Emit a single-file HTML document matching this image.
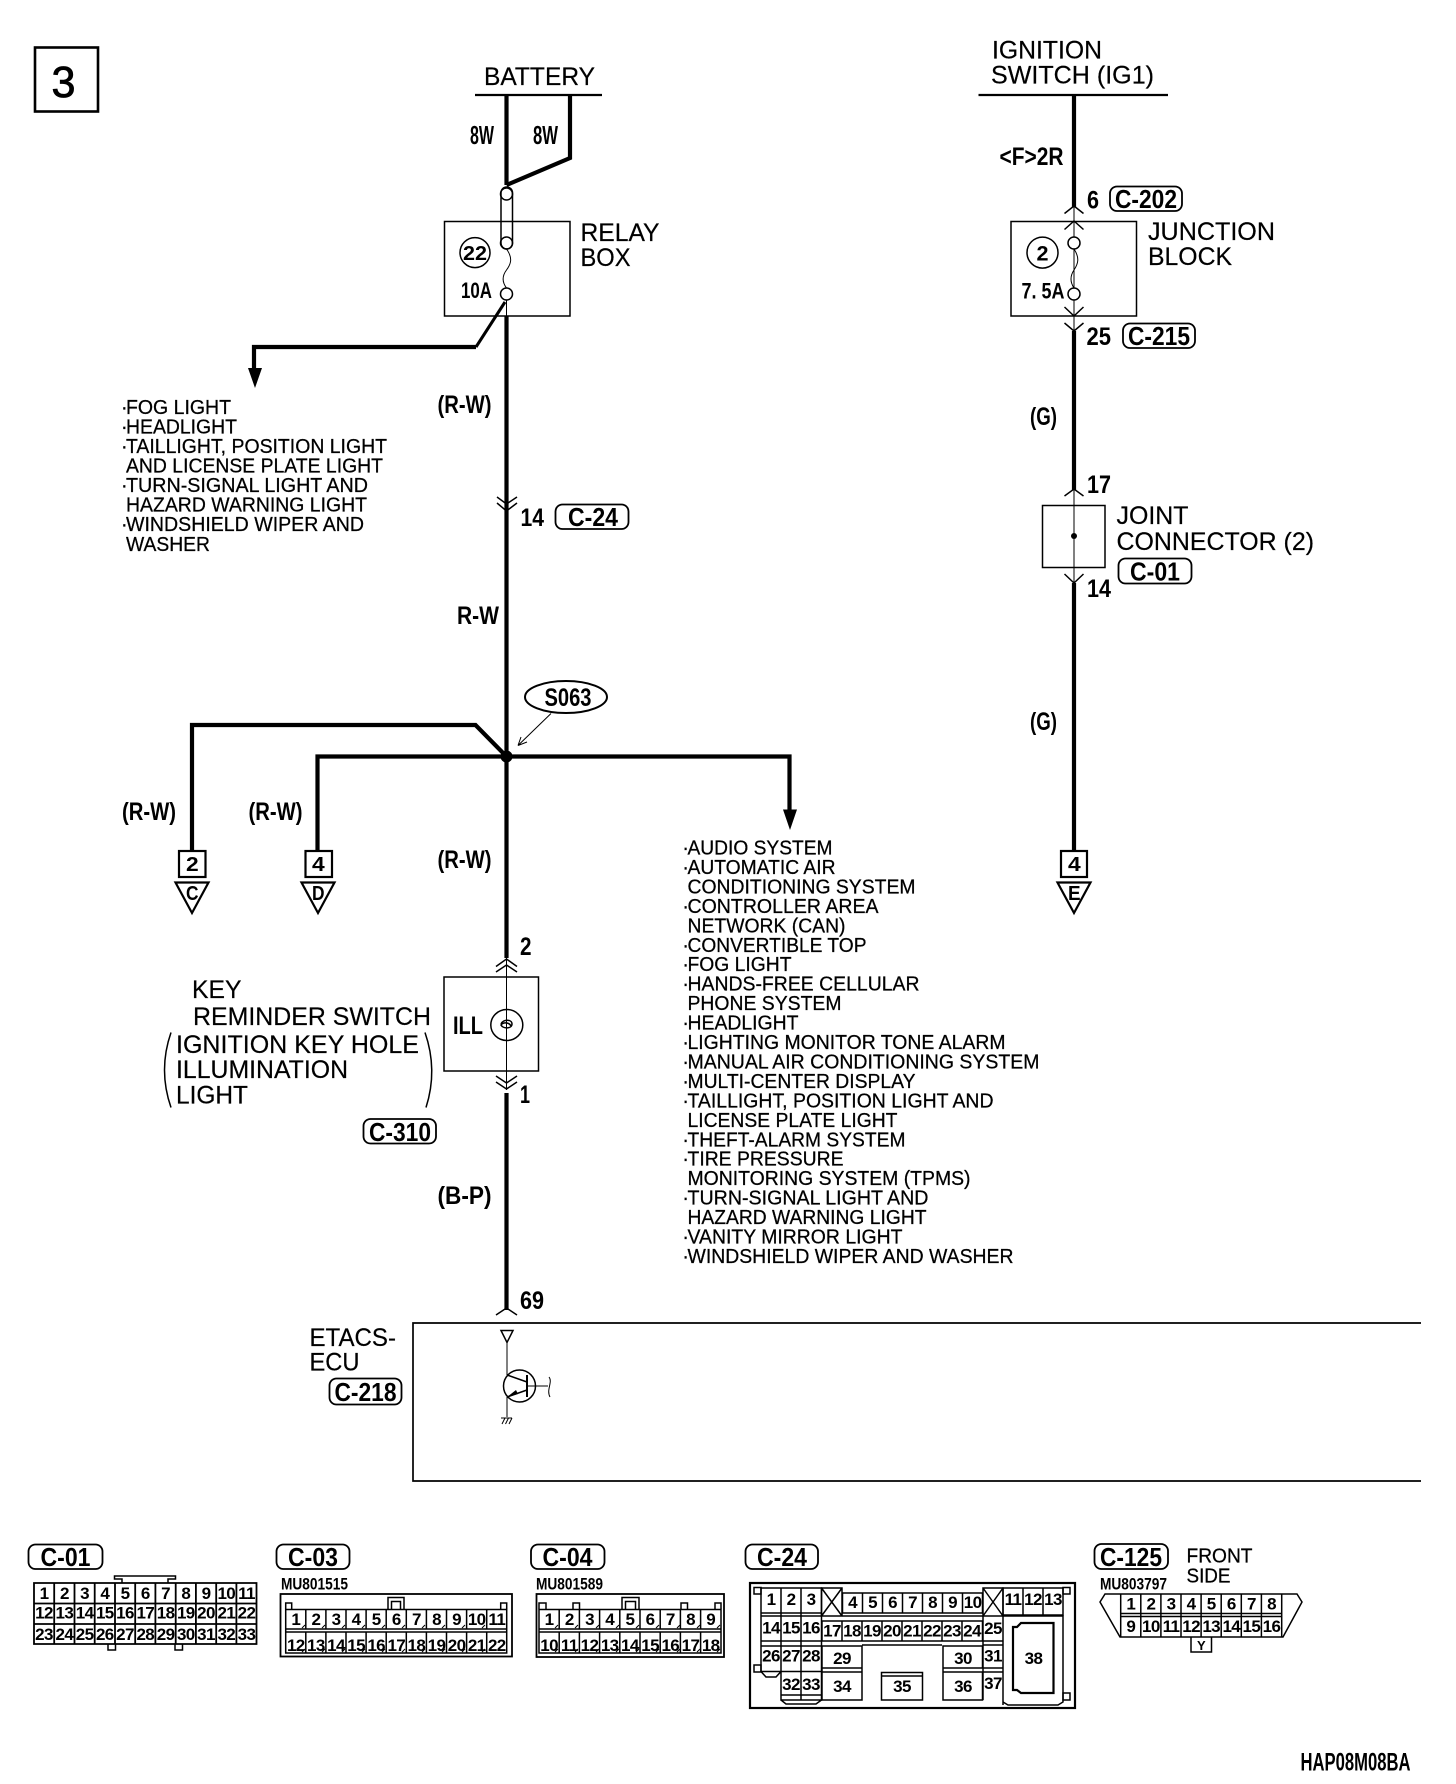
<!DOCTYPE html>
<html><head><meta charset="utf-8"><style>
html,body{margin:0;padding:0;background:#fff;width:1456px;height:1784px;overflow:hidden}
svg{display:block}
text{font-family:"Liberation Sans",sans-serif;fill:#000}
.n{font-size:25px;stroke:#000;stroke-width:.2}
.l{font-size:20px;stroke:#000;stroke-width:.25}
.b{font-weight:bold;font-size:25px}
.c{font-weight:bold;font-size:17px;text-anchor:middle;letter-spacing:-.6px}
.p{font-weight:bold;font-size:26px;text-anchor:middle}
.m{font-weight:bold;font-size:16.5px}
.t{stroke:#000;stroke-width:4.2;fill:none;stroke-linejoin:miter}
.f{stroke:#000;stroke-width:1.5;fill:none}
.h{stroke:#000;stroke-width:1;fill:none}
.g{stroke:#000;stroke-width:2.2;fill:none}
.pill{stroke:#000;stroke-width:1.8;fill:none}
</style></head><body>
<svg xmlns="http://www.w3.org/2000/svg" width="1456" height="1784" viewBox="0 0 1456 1784">
<rect x="35" y="47.5" width="63" height="64" fill="none" stroke="#000" stroke-width="2.6"/>
<text x="51.5" y="97" style="font-size:44px;stroke:#000;stroke-width:.8" textLength="24" lengthAdjust="spacingAndGlyphs">3</text>

<!-- battery -->
<text class="n" x="484" y="85" textLength="111" lengthAdjust="spacingAndGlyphs">BATTERY</text>
<path class="g" d="M475 95H602"/>
<path class="t" d="M506.5 95V185"/>
<path class="t" d="M570 95V158L506.5 185"/>
<text class="b" x="470" y="144" style="font-size:26px" textLength="24" lengthAdjust="spacingAndGlyphs">8W</text>
<text class="b" x="533" y="144" style="font-size:26px" textLength="25" lengthAdjust="spacingAndGlyphs">8W</text>
<rect class="f" x="501" y="187" width="11.5" height="62" rx="5.7"/>
<circle class="f" cx="506.5" cy="194" r="6" fill="#fff"/>
<circle class="f" cx="506.5" cy="243" r="6"/>
<circle class="f" cx="506.5" cy="294" r="6"/>
<path class="h" d="M506.5 249C513 258 511 264 506.5 270C502 276 502 282 506.5 288"/>
<rect class="f" x="444.5" y="221.5" width="125.5" height="94.5"/>
<circle class="f" cx="475" cy="252.6" r="15"/>
<text class="b" x="463" y="260" style="font-size:20px" textLength="24" lengthAdjust="spacingAndGlyphs">22</text>
<text class="b" x="461" y="298" style="font-size:22px" textLength="31" lengthAdjust="spacingAndGlyphs">10A</text>
<text class="n" x="580.5" y="241" textLength="79" lengthAdjust="spacingAndGlyphs">RELAY</text>
<text class="n" x="580.5" y="266" textLength="50" lengthAdjust="spacingAndGlyphs">BOX</text>
<path class="h" d="M506.5 300V316"/>
<path class="t" d="M506.5 316V1310"/>
<path stroke="#000" stroke-width="3" fill="none" d="M505 302L476 347"/>
<path class="t" d="M476 347H254V370"/>
<path d="M248 368L262 368L255 388Z" fill="#000"/>

<text class="b" x="437.5" y="413" textLength="54" lengthAdjust="spacingAndGlyphs">(R-W)</text>
<g>
<text class="l" x="121" y="414">·</text><text class="l" x="126" y="414" textLength="105" lengthAdjust="spacingAndGlyphs">FOG LIGHT</text>
<text class="l" x="121" y="433.5">·</text><text class="l" x="126" y="433.5" textLength="111" lengthAdjust="spacingAndGlyphs">HEADLIGHT</text>
<text class="l" x="121" y="453">·</text><text class="l" x="126" y="453" textLength="261" lengthAdjust="spacingAndGlyphs">TAILLIGHT, POSITION LIGHT</text>
<text class="l" x="126" y="472.5" textLength="257" lengthAdjust="spacingAndGlyphs">AND LICENSE PLATE LIGHT</text>
<text class="l" x="121" y="492">·</text><text class="l" x="126" y="492" textLength="242" lengthAdjust="spacingAndGlyphs">TURN-SIGNAL LIGHT AND</text>
<text class="l" x="126" y="511.5" textLength="241" lengthAdjust="spacingAndGlyphs">HAZARD WARNING LIGHT</text>
<text class="l" x="121" y="531">·</text><text class="l" x="126" y="531" textLength="238" lengthAdjust="spacingAndGlyphs">WINDSHIELD WIPER AND</text>
<text class="l" x="126" y="551" textLength="84" lengthAdjust="spacingAndGlyphs">WASHER</text>
</g>
<path class="f" d="M497 497L506.5 504L517 497M497 503L506.5 511L517 503"/>
<text class="b" x="520.5" y="526" textLength="23.5" lengthAdjust="spacingAndGlyphs">14</text>
<rect class="pill" x="555.5" y="504.5" width="73" height="24.5" rx="7"/>
<text class="p" x="593" y="526" textLength="50" lengthAdjust="spacingAndGlyphs">C-24</text>
<text class="b" x="457" y="624" textLength="42" lengthAdjust="spacingAndGlyphs">R-W</text>

<!-- S063 -->
<ellipse cx="566" cy="697" rx="41" ry="16" fill="none" stroke="#000" stroke-width="2"/>
<text class="b" x="544.5" y="706" style="font-size:25px" textLength="47" lengthAdjust="spacingAndGlyphs">S063</text>
<path class="h" d="M551 713.5L518 745.5M518 745.5L521 737M518 745.5L527 742"/>
<circle cx="506.5" cy="756.5" r="6" fill="#000"/>
<path class="t" d="M506.5 756.5L475.5 725H192V851"/>
<path class="t" d="M317.5 851V756.5H789.5V812"/>
<path d="M783 809.5H797L790 830Z" fill="#000"/>
<text class="b" x="122" y="820" textLength="54" lengthAdjust="spacingAndGlyphs">(R-W)</text>
<text class="b" x="248.5" y="820" textLength="54" lengthAdjust="spacingAndGlyphs">(R-W)</text>
<text class="b" x="437.5" y="868" textLength="54" lengthAdjust="spacingAndGlyphs">(R-W)</text>
<rect class="g" x="179" y="851" width="26.5" height="26" fill="#fff"/>
<text class="c" x="192" y="871" style="font-size:20px" textLength="12" lengthAdjust="spacingAndGlyphs">2</text>
<path class="g" d="M175.5 882.5H208.5L192 913Z"/>
<text class="c" x="192" y="900" style="font-size:20px" textLength="12" lengthAdjust="spacingAndGlyphs">C</text>
<rect class="g" x="305.5" y="851" width="26.5" height="26" fill="#fff"/>
<text class="c" x="318" y="871" style="font-size:20px" textLength="12" lengthAdjust="spacingAndGlyphs">4</text>
<path class="g" d="M301.5 882.5H334.5L318 913Z"/>
<text class="c" x="318" y="900" style="font-size:20px" textLength="12" lengthAdjust="spacingAndGlyphs">D</text>

<!-- key reminder -->
<text class="b" x="520" y="955" textLength="11.5" lengthAdjust="spacingAndGlyphs">2</text>
<rect x="501" y="958" width="11" height="135" fill="#fff"/>
<path class="h" d="M506.5 958V1090"/>
<path class="f" d="M496 966.5L506.5 959L517 966.5M496 972L506.5 965L517 972"/>
<path class="f" d="M496 1076L506.5 1083L517 1076M496 1082L506.5 1089L517 1082"/>
<rect class="f" x="444" y="977" width="94.5" height="94"/>
<text class="b" x="453" y="1034" textLength="30" lengthAdjust="spacingAndGlyphs">ILL</text>
<ellipse class="f" cx="506.8" cy="1025" rx="16" ry="15.5"/>
<path class="f" d="M501 1024C503 1019 512 1019 512 1024C512 1029 503 1029 501 1025C503 1022 509 1022 511 1026"/>
<text class="b" x="520" y="1103" textLength="10" lengthAdjust="spacingAndGlyphs">1</text>
<text class="n" x="192" y="998" textLength="49.5" lengthAdjust="spacingAndGlyphs">KEY</text>
<text class="n" x="193" y="1025" textLength="238" lengthAdjust="spacingAndGlyphs">REMINDER SWITCH</text>
<text class="n" x="176" y="1053" textLength="243" lengthAdjust="spacingAndGlyphs">IGNITION KEY HOLE</text>
<text class="n" x="176" y="1078" textLength="172" lengthAdjust="spacingAndGlyphs">ILLUMINATION</text>
<text class="n" x="176" y="1103.5" textLength="72" lengthAdjust="spacingAndGlyphs">LIGHT</text>
<path class="f" d="M171 1032.5Q158 1070 171 1107.5"/>
<path class="f" d="M425 1032.5Q438 1070 426 1107.5"/>
<rect class="pill" x="363.5" y="1119" width="72.5" height="24.5" rx="7"/>
<text class="p" x="400" y="1141" textLength="62" lengthAdjust="spacingAndGlyphs">C-310</text>
<text class="b" x="437.5" y="1204" textLength="54" lengthAdjust="spacingAndGlyphs">(B-P)</text>

<!-- list right -->
<g transform="translate(-.8 0)">
<text class="l" x="683" y="854.5">·</text><text class="l" x="688.3" y="854.5" textLength="145" lengthAdjust="spacingAndGlyphs">AUDIO SYSTEM</text>
<text class="l" x="683" y="874">·</text><text class="l" x="688.3" y="874" textLength="148" lengthAdjust="spacingAndGlyphs">AUTOMATIC AIR</text>
<text class="l" x="688.3" y="893.4" textLength="228" lengthAdjust="spacingAndGlyphs">CONDITIONING SYSTEM</text>
<text class="l" x="683" y="912.9">·</text><text class="l" x="688.3" y="912.9" textLength="191" lengthAdjust="spacingAndGlyphs">CONTROLLER AREA</text>
<text class="l" x="688.3" y="932.3" textLength="158" lengthAdjust="spacingAndGlyphs">NETWORK (CAN)</text>
<text class="l" x="683" y="951.8">·</text><text class="l" x="688.3" y="951.8" textLength="179" lengthAdjust="spacingAndGlyphs">CONVERTIBLE TOP</text>
<text class="l" x="683" y="971.2">·</text><text class="l" x="688.3" y="971.2" textLength="104" lengthAdjust="spacingAndGlyphs">FOG LIGHT</text>
<text class="l" x="683" y="990.7">·</text><text class="l" x="688.3" y="990.7" textLength="232" lengthAdjust="spacingAndGlyphs">HANDS-FREE CELLULAR</text>
<text class="l" x="688.3" y="1010.1" textLength="154" lengthAdjust="spacingAndGlyphs">PHONE SYSTEM</text>
<text class="l" x="683" y="1029.6">·</text><text class="l" x="688.3" y="1029.6" textLength="111" lengthAdjust="spacingAndGlyphs">HEADLIGHT</text>
<text class="l" x="683" y="1049">·</text><text class="l" x="688.3" y="1049" textLength="318" lengthAdjust="spacingAndGlyphs">LIGHTING MONITOR TONE ALARM</text>
<text class="l" x="683" y="1068.5">·</text><text class="l" x="688.3" y="1068.5" textLength="352" lengthAdjust="spacingAndGlyphs">MANUAL AIR CONDITIONING SYSTEM</text>
<text class="l" x="683" y="1087.9">·</text><text class="l" x="688.3" y="1087.9" textLength="228" lengthAdjust="spacingAndGlyphs">MULTI-CENTER DISPLAY</text>
<text class="l" x="683" y="1107.4">·</text><text class="l" x="688.3" y="1107.4" textLength="306" lengthAdjust="spacingAndGlyphs">TAILLIGHT, POSITION LIGHT AND</text>
<text class="l" x="688.3" y="1126.8" textLength="210" lengthAdjust="spacingAndGlyphs">LICENSE PLATE LIGHT</text>
<text class="l" x="683" y="1146.3">·</text><text class="l" x="688.3" y="1146.3" textLength="218" lengthAdjust="spacingAndGlyphs">THEFT-ALARM SYSTEM</text>
<text class="l" x="683" y="1165.7">·</text><text class="l" x="688.3" y="1165.7" textLength="156" lengthAdjust="spacingAndGlyphs">TIRE PRESSURE</text>
<text class="l" x="688.3" y="1185.2" textLength="283" lengthAdjust="spacingAndGlyphs">MONITORING SYSTEM (TPMS)</text>
<text class="l" x="683" y="1204.6">·</text><text class="l" x="688.3" y="1204.6" textLength="241" lengthAdjust="spacingAndGlyphs">TURN-SIGNAL LIGHT AND</text>
<text class="l" x="688.3" y="1224.1" textLength="239" lengthAdjust="spacingAndGlyphs">HAZARD WARNING LIGHT</text>
<text class="l" x="683" y="1243.5">·</text><text class="l" x="688.3" y="1243.5" textLength="215" lengthAdjust="spacingAndGlyphs">VANITY MIRROR LIGHT</text>
<text class="l" x="683" y="1263">·</text><text class="l" x="688.3" y="1263" textLength="326" lengthAdjust="spacingAndGlyphs">WINDSHIELD WIPER AND WASHER</text>
</g>

<!-- ignition -->
<text class="n" x="992" y="58.5" textLength="110" lengthAdjust="spacingAndGlyphs">IGNITION</text>
<text class="n" x="991" y="83.5" textLength="163" lengthAdjust="spacingAndGlyphs">SWITCH (IG1)</text>
<path class="g" d="M978.5 95H1168"/>
<path class="t" d="M1074 95V207"/>
<text class="b" x="999.5" y="165" textLength="64" lengthAdjust="spacingAndGlyphs">&lt;F&gt;2R</text>
<path class="f" d="M1064.5 213.5L1074 206L1083.5 213.5M1064.5 229.5L1074 221L1083.5 229.5"/>
<path class="h" d="M1074 206V237M1074 249V288M1074 300V331"/>
<text class="b" x="1087" y="208.5" textLength="12" lengthAdjust="spacingAndGlyphs">6</text>
<rect class="pill" x="1110" y="186.5" width="72" height="24.5" rx="7"/>
<text class="p" x="1146" y="208" textLength="62" lengthAdjust="spacingAndGlyphs">C-202</text>
<rect class="f" x="1011" y="221.5" width="125.5" height="94.5"/>
<circle class="f" cx="1042.5" cy="252.6" r="15.5"/>
<text class="b" x="1042.5" y="260.5" style="font-size:21px;text-anchor:middle" textLength="12" lengthAdjust="spacingAndGlyphs">2</text>
<circle class="f" cx="1074" cy="243" r="6" fill="#fff"/>
<circle class="f" cx="1074" cy="294" r="6"/>
<path class="h" d="M1074 249C1080 258 1078 264 1074 270C1070 276 1070 282 1074 288"/>
<text class="b" x="1021.5" y="298.5" style="font-size:22px" textLength="43" lengthAdjust="spacingAndGlyphs">7. 5A</text>
<text class="n" x="1148" y="240" textLength="127" lengthAdjust="spacingAndGlyphs">JUNCTION</text>
<text class="n" x="1148" y="265" textLength="84" lengthAdjust="spacingAndGlyphs">BLOCK</text>
<path class="f" d="M1064.5 307L1074 316L1083.5 307M1064.5 323L1074 331L1083.5 323"/>
<text class="b" x="1086.5" y="345" textLength="24.5" lengthAdjust="spacingAndGlyphs">25</text>
<rect class="pill" x="1123" y="323.5" width="72" height="24.5" rx="7"/>
<text class="p" x="1159" y="345" textLength="62" lengthAdjust="spacingAndGlyphs">C-215</text>
<path class="t" d="M1074 331V490"/>
<text class="b" x="1030" y="425" textLength="27" lengthAdjust="spacingAndGlyphs">(G)</text>
<path class="f" d="M1064.5 496L1074 489L1083.5 496"/>
<text class="b" x="1087" y="493" textLength="24" lengthAdjust="spacingAndGlyphs">17</text>
<rect class="f" x="1042.5" y="505.5" width="62.5" height="62"/>
<path class="h" d="M1074 490V583"/>
<circle cx="1074" cy="536" r="3" fill="#000"/>
<text class="n" x="1116.5" y="524" textLength="72" lengthAdjust="spacingAndGlyphs">JOINT</text>
<text class="n" x="1116.5" y="550" textLength="197.5" lengthAdjust="spacingAndGlyphs">CONNECTOR (2)</text>
<rect class="pill" x="1118.5" y="558.5" width="73" height="25" rx="7"/>
<text class="p" x="1155" y="580.5" textLength="50" lengthAdjust="spacingAndGlyphs">C-01</text>
<path class="f" d="M1064.5 574L1074 583L1083.5 574"/>
<text class="b" x="1087" y="597" textLength="24" lengthAdjust="spacingAndGlyphs">14</text>
<path class="t" d="M1074 583V851"/>
<text class="b" x="1030" y="730" textLength="27" lengthAdjust="spacingAndGlyphs">(G)</text>
<rect class="g" x="1061" y="851" width="26" height="26" fill="#fff"/>
<text class="c" x="1074" y="871" style="font-size:20px" textLength="12" lengthAdjust="spacingAndGlyphs">4</text>
<path class="g" d="M1057.5 882.5H1090.5L1074 913Z"/>
<text class="c" x="1074" y="900" style="font-size:20px" textLength="12" lengthAdjust="spacingAndGlyphs">E</text>

<!-- ETACS -->
<text class="b" x="520" y="1309" textLength="24" lengthAdjust="spacingAndGlyphs">69</text>
<path class="f" d="M496 1315L506.5 1308L517 1315"/>
<path class="g" d="M1421 1323H413V1481H1421" style="stroke-width:1.7"/>
<text class="n" x="309.5" y="1346" textLength="86.5" lengthAdjust="spacingAndGlyphs">ETACS-</text>
<text class="n" x="309.5" y="1370.5" textLength="50" lengthAdjust="spacingAndGlyphs">ECU</text>
<rect class="pill" x="329.5" y="1378.5" width="72" height="26" rx="7"/>
<text class="p" x="365.5" y="1401" textLength="62" lengthAdjust="spacingAndGlyphs">C-218</text>
<path class="f" d="M501 1330.5H513L507 1342.5Z"/>
<path class="h" d="M507 1342.5V1375M507 1397V1417"/>
<circle class="f" cx="519.5" cy="1386" r="16"/>
<path class="f" d="M527 1375V1397" style="stroke-width:2"/>
<path class="h" d="M527 1386H548"/>
<path class="h" d="M549 1377C553 1382 546 1390 550 1397"/>
<path class="f" d="M507 1375L527 1382M527 1390L507 1397"/>
<path d="M507 1397L516 1390L518 1394Z" fill="#000"/>
<path class="h" d="M501 1418H512M502 1424L505 1418M505.5 1424L508.5 1418M509 1424L512 1418"/>

<!-- C-01 -->
<rect class="pill" x="28.5" y="1544.5" width="74" height="24.5" rx="7"/>
<text class="p" x="65.5" y="1566" textLength="50" lengthAdjust="spacingAndGlyphs">C-01</text>
<path class="g" d="M34 1583H256.5V1644H34ZM34 1603.5H256.5M34 1624H256.5M54.2 1583V1644M74.5 1583V1644M94.7 1583V1644M115 1583V1644M135.2 1583V1644M155.4 1583V1644M175.7 1583V1644M195.9 1583V1644M216.2 1583V1644M236.4 1583V1644" style="stroke-width:1.8"/>
<path class="f" d="M122 1583V1579H114.5V1576H175.5V1579H168V1583M108 1644V1650H115.5V1644M175 1644V1650H182.5V1644"/>
<g>
<text class="c" x="44" y="1599">1</text><text class="c" x="64.4" y="1599">2</text><text class="c" x="84.6" y="1599">3</text><text class="c" x="104.8" y="1599">4</text><text class="c" x="125" y="1599">5</text><text class="c" x="145.3" y="1599">6</text><text class="c" x="165.6" y="1599">7</text><text class="c" x="185.8" y="1599">8</text><text class="c" x="206" y="1599">9</text><text class="c" x="226.3" y="1599">10</text><text class="c" x="246.5" y="1599">11</text>
<text class="c" x="44" y="1618.5">12</text><text class="c" x="64.4" y="1618.5">13</text><text class="c" x="84.6" y="1618.5">14</text><text class="c" x="104.8" y="1618.5">15</text><text class="c" x="125" y="1618.5">16</text><text class="c" x="145.3" y="1618.5">17</text><text class="c" x="165.6" y="1618.5">18</text><text class="c" x="185.8" y="1618.5">19</text><text class="c" x="206" y="1618.5">20</text><text class="c" x="226.3" y="1618.5">21</text><text class="c" x="246.5" y="1618.5">22</text>
<text class="c" x="44" y="1640">23</text><text class="c" x="64.4" y="1640">24</text><text class="c" x="84.6" y="1640">25</text><text class="c" x="104.8" y="1640">26</text><text class="c" x="125" y="1640">27</text><text class="c" x="145.3" y="1640">28</text><text class="c" x="165.6" y="1640">29</text><text class="c" x="185.8" y="1640">30</text><text class="c" x="206" y="1640">31</text><text class="c" x="226.3" y="1640">32</text><text class="c" x="246.5" y="1640">33</text>
</g>

<!-- C-03 -->
<rect class="pill" x="276.5" y="1544.5" width="73" height="24.5" rx="7"/>
<text class="p" x="313" y="1566" textLength="50" lengthAdjust="spacingAndGlyphs">C-03</text>
<text class="m" x="281" y="1589.5" textLength="67" lengthAdjust="spacingAndGlyphs">MU801515</text>
<rect class="g" x="280.5" y="1594" width="231.5" height="62.5" style="stroke-width:1.8"/>
<path class="f" d="M285.7 1609.5H506.7V1653H285.7ZM285.7 1629H506.7M285.7 1632H506.7M305.8 1609.5V1629M325.9 1609.5V1629M346 1609.5V1629M366.1 1609.5V1629M386.2 1609.5V1629M406.3 1609.5V1629M426.4 1609.5V1629M446.5 1609.5V1629M466.6 1609.5V1629M486.7 1609.5V1629M305.8 1632V1653M325.9 1632V1653M346 1632V1653M366.1 1632V1653M386.2 1632V1653M406.3 1632V1653M426.4 1632V1653M446.5 1632V1653M466.6 1632V1653M486.7 1632V1653"/>
<path class="f" d="M285.7 1609V1603H291.7V1609M500.7 1609V1603H506.7V1609M388 1609V1597.5H404V1609M391.5 1609V1601.5H400.5V1609"/>
<path class="h" d="M302 1628l3-3M322 1628l3-3M342 1628l3-3M362 1628l3-3M382 1628l3-3M402 1628l3-3M422 1628l3-3M442 1628l3-3M462 1628l3-3M482 1628l3-3M302 1652l3-3M322 1652l3-3M342 1652l3-3M362 1652l3-3M382 1652l3-3M402 1652l3-3M422 1652l3-3M442 1652l3-3M462 1652l3-3M482 1652l3-3"/>
<g>
<text class="c" x="295.8" y="1625">1</text><text class="c" x="315.9" y="1625">2</text><text class="c" x="336" y="1625">3</text><text class="c" x="356.1" y="1625">4</text><text class="c" x="376.2" y="1625">5</text><text class="c" x="396.3" y="1625">6</text><text class="c" x="416.4" y="1625">7</text><text class="c" x="436.5" y="1625">8</text><text class="c" x="456.6" y="1625">9</text><text class="c" x="476.7" y="1625">10</text><text class="c" x="496.8" y="1625">11</text>
<text class="c" x="295.8" y="1651">12</text><text class="c" x="315.9" y="1651">13</text><text class="c" x="336" y="1651">14</text><text class="c" x="356.1" y="1651">15</text><text class="c" x="376.2" y="1651">16</text><text class="c" x="396.3" y="1651">17</text><text class="c" x="416.4" y="1651">18</text><text class="c" x="436.5" y="1651">19</text><text class="c" x="456.6" y="1651">20</text><text class="c" x="476.7" y="1651">21</text><text class="c" x="496.8" y="1651">22</text>
</g>

<!-- C-04 -->
<rect class="pill" x="531" y="1544.5" width="73.5" height="24.5" rx="7"/>
<text class="p" x="567.5" y="1566" textLength="50" lengthAdjust="spacingAndGlyphs">C-04</text>
<text class="m" x="536" y="1589.5" textLength="67" lengthAdjust="spacingAndGlyphs">MU801589</text>
<rect class="g" x="536.5" y="1594" width="187.5" height="63" style="stroke-width:1.8"/>
<path class="f" d="M539 1609.5H721V1653H539ZM539 1629H721M539 1632H721M559.2 1609.5V1629M579.4 1609.5V1629M599.6 1609.5V1629M619.8 1609.5V1629M640 1609.5V1629M660.2 1609.5V1629M680.4 1609.5V1629M700.6 1609.5V1629M559.2 1632V1653M579.4 1632V1653M599.6 1632V1653M619.8 1632V1653M640 1632V1653M660.2 1632V1653M680.4 1632V1653M700.6 1632V1653"/>
<path class="f" d="M539 1609V1603H546V1609M573 1609V1603H579.5V1609M681 1609V1603H687.5V1609M715 1609V1603H721V1609M622 1609V1597.5H639V1609M625.5 1609V1601.5H635.5V1609"/>
<path class="h" d="M555 1628l3-3M575 1628l3-3M596 1628l3-3M616 1628l3-3M636 1628l3-3M656 1628l3-3M677 1628l3-3M697 1628l3-3M717 1628l3-3M555 1652l3-3M575 1652l3-3M596 1652l3-3M616 1652l3-3M636 1652l3-3M656 1652l3-3M677 1652l3-3M697 1652l3-3M717 1652l3-3"/>
<g>
<text class="c" x="549.1" y="1625">1</text><text class="c" x="569.3" y="1625">2</text><text class="c" x="589.5" y="1625">3</text><text class="c" x="609.7" y="1625">4</text><text class="c" x="629.9" y="1625">5</text><text class="c" x="650.1" y="1625">6</text><text class="c" x="670.3" y="1625">7</text><text class="c" x="690.5" y="1625">8</text><text class="c" x="710.7" y="1625">9</text>
<text class="c" x="549.1" y="1651">10</text><text class="c" x="569.3" y="1651">11</text><text class="c" x="589.5" y="1651">12</text><text class="c" x="609.7" y="1651">13</text><text class="c" x="629.9" y="1651">14</text><text class="c" x="650.1" y="1651">15</text><text class="c" x="670.3" y="1651">16</text><text class="c" x="690.5" y="1651">17</text><text class="c" x="710.7" y="1651">18</text>
</g>

<!-- C-24 -->
<rect class="pill" x="745.5" y="1544.5" width="72.5" height="24.5" rx="7"/>
<text class="p" x="782" y="1566" textLength="50" lengthAdjust="spacingAndGlyphs">C-24</text>
<rect class="g" x="750" y="1583" width="325" height="125"/>
<path class="f" d="M761 1588H821.5V1671.5H761ZM781 1588V1671.5M801 1588V1700M761 1613H821.5M761 1616H821.5M761 1641H821.5M761 1646H821.5M781 1671.5V1700H821.5V1671.5M781 1695H821.5M761 1671.5L766 1677H776L781 1671.5M781 1700L786 1704H816L821.5 1700"/>
<path class="f" d="M821.5 1588H842V1616H821.5ZM821.5 1588L842 1616M842 1588L821.5 1616"/>
<path class="f" d="M842.5 1593H982.5V1613H842.5ZM842.5 1616H982.5M862.5 1593V1613M882.5 1593V1613M902.5 1593V1613M922.5 1593V1613M942.5 1593V1613M962.5 1593V1613"/>
<path class="f" d="M983 1588H1003V1616H983ZM983 1588L1003 1616M1003 1588L983 1616"/>
<path class="f" d="M1003 1588H1063V1615H1003ZM1023 1588V1615M1043 1588V1615"/>
<path class="f" d="M822 1621H982.5V1641H822ZM842 1621V1641M862 1621V1641M882 1621V1641M902 1621V1641M922 1621V1641M942 1621V1641M962 1621V1641M862 1645H942"/>
<path class="f" d="M983 1616V1700M1003 1616V1705M983 1641H1003M983 1645H1003M983 1668H1003M983 1672H1003"/>
<path class="f" d="M822 1646H862V1668H822ZM822 1672H862V1700H822ZM822 1668V1700M862 1646V1700"/>
<path class="f" d="M943 1646H982.5V1668H943ZM943 1672H982.5V1700H943ZM943 1646V1700"/>
<path class="f" d="M881.5 1672.5H922.5V1700H881.5ZM881.5 1676H922.5"/>
<path class="f" d="M1003 1616H1063V1702L1058 1705H1008L1003 1702"/>
<path class="g" d="M1021 1623H1053.5V1693H1021L1017 1690H1013V1627H1017Z"/>
<path class="f" d="M754 1587.5H761V1594H754ZM1063 1587.5H1070V1594H1063ZM754 1665H761V1672H754ZM1063 1693H1070V1700H1063Z"/>
<g>
<text class="c" x="771" y="1605">1</text><text class="c" x="791" y="1605">2</text><text class="c" x="811" y="1605">3</text>
<text class="c" x="852.6" y="1608">4</text><text class="c" x="872.6" y="1608">5</text><text class="c" x="892.6" y="1608">6</text><text class="c" x="912.6" y="1608">7</text><text class="c" x="932.6" y="1608">8</text><text class="c" x="952.6" y="1608">9</text><text class="c" x="972.6" y="1608">10</text>
<text class="c" x="1013" y="1605">11</text><text class="c" x="1033" y="1605">12</text><text class="c" x="1053" y="1605">13</text>
<text class="c" x="771" y="1633.5">14</text><text class="c" x="791" y="1633.5">15</text><text class="c" x="811" y="1633.5">16</text>
<text class="c" x="832" y="1636.5">17</text><text class="c" x="852" y="1636.5">18</text><text class="c" x="872" y="1636.5">19</text><text class="c" x="892" y="1636.5">20</text><text class="c" x="912" y="1636.5">21</text><text class="c" x="932" y="1636.5">22</text><text class="c" x="952" y="1636.5">23</text><text class="c" x="972" y="1636.5">24</text>
<text class="c" x="993" y="1634">25</text>
<text class="c" x="771" y="1661.5">26</text><text class="c" x="791" y="1661.5">27</text><text class="c" x="811" y="1661.5">28</text>
<text class="c" x="842" y="1664">29</text><text class="c" x="963" y="1664">30</text><text class="c" x="993" y="1661.5">31</text>
<text class="c" x="791" y="1690">32</text><text class="c" x="811" y="1690">33</text>
<text class="c" x="842" y="1692">34</text><text class="c" x="902" y="1692">35</text><text class="c" x="963" y="1692">36</text><text class="c" x="993" y="1689">37</text>
<text class="c" x="1033.5" y="1664">38</text>
</g>

<!-- C-125 -->
<rect class="pill" x="1094.5" y="1544" width="73.5" height="25" rx="7"/>
<text class="p" x="1131" y="1566" textLength="62" lengthAdjust="spacingAndGlyphs">C-125</text>
<text class="l" x="1186.5" y="1562.5" textLength="66" lengthAdjust="spacingAndGlyphs">FRONT</text>
<text class="l" x="1186.5" y="1582.5" textLength="44" lengthAdjust="spacingAndGlyphs">SIDE</text>
<text class="m" x="1100" y="1589.5" textLength="67" lengthAdjust="spacingAndGlyphs">MU803797</text>
<path class="f" d="M1105 1594H1297L1302 1602L1283 1637H1120L1100 1602Z"/>
<path class="f" d="M1120.7 1594V1637M1281.7 1594V1637M1120.7 1613.5H1281.7M1120.7 1616.5H1281.7M1140.8 1594V1637M1160.9 1594V1637M1181 1594V1637M1201.1 1594V1637M1221.2 1594V1637M1241.3 1594V1637M1261.4 1594V1637"/>
<path class="f" d="M1191 1637V1652H1211.5V1637"/>
<text class="c" x="1201" y="1650" style="font-size:13px">Y</text>
<g>
<text class="c" x="1130.8" y="1609.5">1</text><text class="c" x="1150.9" y="1609.5">2</text><text class="c" x="1171" y="1609.5">3</text><text class="c" x="1191.1" y="1609.5">4</text><text class="c" x="1211.2" y="1609.5">5</text><text class="c" x="1231.3" y="1609.5">6</text><text class="c" x="1251.4" y="1609.5">7</text><text class="c" x="1271.5" y="1609.5">8</text>
<text class="c" x="1130.8" y="1632">9</text><text class="c" x="1150.9" y="1632">10</text><text class="c" x="1171" y="1632">11</text><text class="c" x="1191.1" y="1632">12</text><text class="c" x="1211.2" y="1632">13</text><text class="c" x="1231.3" y="1632">14</text><text class="c" x="1251.4" y="1632">15</text><text class="c" x="1271.5" y="1632">16</text>
</g>
<text class="b" x="1300.5" y="1770.5" textLength="110" lengthAdjust="spacingAndGlyphs">HAP08M08BA</text>
</svg>
</body></html>
